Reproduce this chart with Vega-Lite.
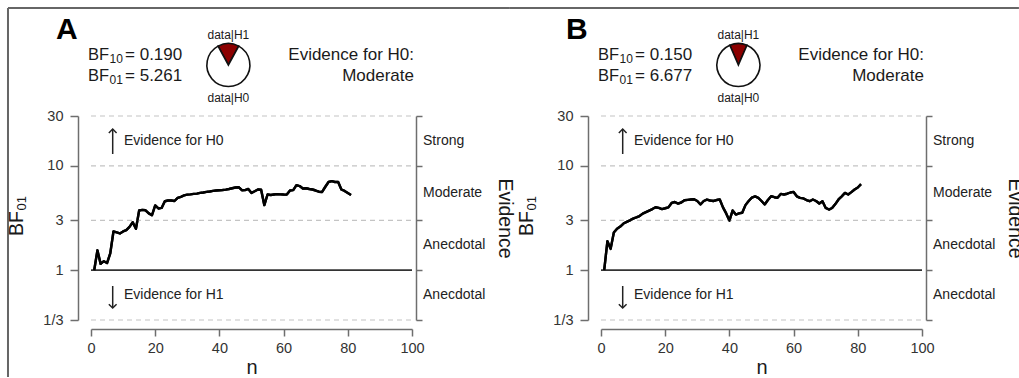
{
  "$schema": "https://vega.github.io/schema/vega-lite/v6.json",
  "background": "white",
  "padding": {"left": 6, "top": 6, "right": 0, "bottom": 0},
  "bounds": "flush",
  "spacing": 189,
  "config": {
    "view": {"stroke": null},
    "font": "Liberation Sans",
    "text": {"font": "Liberation Sans", "color": "#1a1a1a"},
    "axis": {"grid": false, "domainColor": "#6e6e6e", "tickColor": "#6e6e6e", "domainWidth": 1.5, "tickWidth": 1.5, "labelFont": "Liberation Sans", "labelFontSize": 14.5, "labelColor": "#333333", "titleFont": "Liberation Sans", "titleFontWeight": "normal", "titleColor": "#1a1a1a"}
  },
  "datasets": {
    "bfA": [
      {"n":1,"bf":1.0},{"n":2,"bf":1.55},{"n":3,"bf":1.15},{"n":4,"bf":1.22},{"n":5,"bf":1.17},{"n":6,"bf":1.45},{"n":7,"bf":2.35},{"n":8,"bf":2.3},{"n":9,"bf":2.25},{"n":10,"bf":2.35},
      {"n":11,"bf":2.42},{"n":12,"bf":2.6},{"n":13,"bf":2.88},{"n":14,"bf":2.49},{"n":15,"bf":3.73},{"n":16,"bf":3.78},{"n":17,"bf":3.75},{"n":18,"bf":3.5},{"n":19,"bf":3.36},{"n":20,"bf":4.17},
      {"n":21,"bf":3.9},{"n":22,"bf":3.95},{"n":23,"bf":4.58},{"n":24,"bf":4.65},{"n":25,"bf":4.65},{"n":26,"bf":4.6},{"n":27,"bf":4.93},{"n":28,"bf":5.05},{"n":29,"bf":5.2},{"n":30,"bf":5.3},
      {"n":31,"bf":5.33},{"n":32,"bf":5.38},{"n":33,"bf":5.42},{"n":34,"bf":5.5},{"n":35,"bf":5.55},{"n":36,"bf":5.62},{"n":37,"bf":5.68},{"n":38,"bf":5.75},{"n":39,"bf":5.8},{"n":40,"bf":5.84},
      {"n":41,"bf":5.87},{"n":42,"bf":5.92},{"n":43,"bf":6.0},{"n":44,"bf":6.1},{"n":45,"bf":6.2},{"n":46,"bf":6.24},{"n":47,"bf":5.84},{"n":48,"bf":5.85},{"n":49,"bf":6.0},{"n":50,"bf":5.5},
      {"n":51,"bf":5.7},{"n":52,"bf":5.93},{"n":53,"bf":5.9},{"n":54,"bf":4.2},{"n":55,"bf":5.31},{"n":56,"bf":5.25},{"n":57,"bf":5.31},{"n":58,"bf":5.35},{"n":59,"bf":5.33},{"n":60,"bf":5.31},
      {"n":61,"bf":5.3},{"n":62,"bf":5.8},{"n":63,"bf":5.85},{"n":64,"bf":6.52},{"n":65,"bf":6.4},{"n":66,"bf":6.06},{"n":67,"bf":6.1},{"n":68,"bf":6.0},{"n":69,"bf":5.93},{"n":70,"bf":5.8},
      {"n":71,"bf":5.65},{"n":72,"bf":5.62},{"n":73,"bf":6.3},{"n":74,"bf":7.0},{"n":75,"bf":7.12},{"n":76,"bf":7.0},{"n":77,"bf":7.0},{"n":78,"bf":5.93},{"n":79,"bf":5.75},{"n":80,"bf":5.5},
      {"n":81,"bf":5.261}
    ],
    "bfB": [
      {"n":1,"bf":1.0},{"n":2,"bf":1.9},{"n":3,"bf":1.6},{"n":4,"bf":2.3},{"n":5,"bf":2.5},{"n":6,"bf":2.62},{"n":7,"bf":2.8},{"n":8,"bf":2.9},{"n":9,"bf":3.0},{"n":10,"bf":3.12},
      {"n":11,"bf":3.2},{"n":12,"bf":3.3},{"n":13,"bf":3.48},{"n":14,"bf":3.6},{"n":15,"bf":3.72},{"n":16,"bf":3.85},{"n":17,"bf":4.01},{"n":18,"bf":3.95},{"n":19,"bf":3.85},{"n":20,"bf":3.92},
      {"n":21,"bf":4.0},{"n":22,"bf":4.41},{"n":23,"bf":4.5},{"n":24,"bf":4.35},{"n":25,"bf":4.45},{"n":26,"bf":4.68},{"n":27,"bf":4.72},{"n":28,"bf":4.75},{"n":29,"bf":4.78},{"n":30,"bf":4.6},
      {"n":31,"bf":4.26},{"n":32,"bf":4.6},{"n":33,"bf":4.75},{"n":34,"bf":4.65},{"n":35,"bf":4.6},{"n":36,"bf":4.7},{"n":37,"bf":4.75},{"n":38,"bf":4.0},{"n":39,"bf":3.5},{"n":40,"bf":2.99},
      {"n":41,"bf":3.73},{"n":42,"bf":3.41},{"n":43,"bf":3.5},{"n":44,"bf":3.55},{"n":45,"bf":4.2},{"n":46,"bf":4.6},{"n":47,"bf":4.95},{"n":48,"bf":5.1},{"n":49,"bf":4.93},{"n":50,"bf":4.6},
      {"n":51,"bf":4.26},{"n":52,"bf":4.7},{"n":53,"bf":5.12},{"n":54,"bf":5.0},{"n":55,"bf":4.93},{"n":56,"bf":5.38},{"n":57,"bf":5.31},{"n":58,"bf":5.4},{"n":59,"bf":5.55},{"n":60,"bf":5.62},
      {"n":61,"bf":5.1},{"n":62,"bf":4.93},{"n":63,"bf":4.87},{"n":64,"bf":4.7},{"n":65,"bf":4.58},{"n":66,"bf":4.76},{"n":67,"bf":4.6},{"n":68,"bf":4.35},{"n":69,"bf":4.58},{"n":70,"bf":3.95},
      {"n":71,"bf":3.81},{"n":72,"bf":3.94},{"n":73,"bf":4.3},{"n":74,"bf":4.76},{"n":75,"bf":5.1},{"n":76,"bf":5.5},{"n":77,"bf":5.31},{"n":78,"bf":5.6},{"n":79,"bf":5.93},{"n":80,"bf":6.2},
      {"n":81,"bf":6.677}
    ]
  },
  "hconcat": [
    {
      "width": 321,
      "height": 204,
      "resolve": {"axis": {"y": "independent"}},
      "layer": [
        {"data": {"name": "bfA"}, "mark": {"type": "line", "color": "#000000", "strokeWidth": 2.4, "strokeJoin": "round"},
         "encoding": {
           "x": {"field": "n", "type": "quantitative", "scale": {"domain": [0, 100], "nice": false, "zero": false},
                 "axis": {"orient": "bottom", "offset": 9, "values": [0, 20, 40, 60, 80, 100], "tickSize": 7, "labelPadding": 5, "labelFlush": false, "labelOverlap": false, "title": "n", "titleFontSize": 20, "titlePadding": 3}},
           "y": {"field": "bf", "type": "quantitative", "scale": {"type": "log", "domain": [0.3333333, 30], "nice": false},
                 "axis": {"orient": "left", "offset": 13, "values": [0.3333333, 1, 3, 10, 30], "labelExpr": "datum.value < 0.5 ? '1/3' : format(datum.value, 'd')", "tickSize": 8, "labelPadding": 7, "labelOverlap": false, "labelFlush": false, "title": null}}}},
        {"data": {"values": [{}]}, "mark": {"type": "rule", "color": "#666666", "strokeWidth": 2},
         "encoding": {"x": {"datum": -25.86, "type": "quantitative"}, "x2": {"datum": 130.5}, "y": {"datum": 324.9, "type": "quantitative", "axis": null}}},
        {"data": {"values": [{}]}, "mark": {"type": "rule", "color": "#666666", "strokeWidth": 2},
         "encoding": {"x": {"datum": -25.86, "type": "quantitative"}, "y": {"datum": 324.9, "type": "quantitative", "axis": null}, "y2": {"datum": 0.095}}},
        {"data": {"values": [{"bf": 30}, {"bf": 10}, {"bf": 3}, {"bf": 0.3333333}]},
         "mark": {"type": "rule", "color": "#c4c4c4", "strokeDash": [5, 4], "strokeWidth": 1.2},
         "encoding": {"x": {"datum": 0, "type": "quantitative"}, "x2": {"datum": 100},
                      "y": {"field": "bf", "type": "quantitative", "axis": {"orient": "right", "offset": 4, "values": [0.3333333, 1, 3, 10, 30], "labels": false, "tickSize": 6, "title": "Evidence", "titleFontSize": 19.5, "titleAngle": 90, "titlePadding": 72}}}},
        {"data": {"values": [{}]}, "mark": {"type": "rule", "color": "#333333", "strokeWidth": 1.8},
         "encoding": {"x": {"datum": 0, "type": "quantitative"}, "x2": {"datum": 100}, "y": {"datum": 1, "type": "quantitative", "axis": null}}},
        {"data": {"name": "bfA"}, "mark": {"type": "line", "color": "#000000", "strokeWidth": 2.4, "strokeJoin": "round"},
         "encoding": {"x": {"field": "n", "type": "quantitative"}, "y": {"field": "bf", "type": "quantitative", "axis": null}}},
        {"data": {"values": [{"label": "Strong", "bf": 17.32}, {"label": "Moderate", "bf": 5.477}, {"label": "Anecdotal", "bf": 1.732}, {"label": "Anecdotal", "bf": 0.5774}]},
         "mark": {"type": "text", "align": "left", "baseline": "middle", "fontSize": 14, "color": "#222222"},
         "encoding": {"x": {"datum": 103.43, "type": "quantitative"}, "y": {"field": "bf", "type": "quantitative", "axis": null}, "text": {"field": "label"}}},
        {"data": {"values": [{"label": "Evidence for H0", "bf": 17.32}, {"label": "Evidence for H1", "bf": 0.5774}]},
         "mark": {"type": "text", "align": "left", "baseline": "middle", "fontSize": 14, "color": "#222222"},
         "encoding": {"x": {"datum": 10.28, "type": "quantitative"}, "y": {"field": "bf", "type": "quantitative", "axis": null}, "text": {"field": "label"}}},
        {"data": {"values": [{}]}, "mark": {"type": "rule", "color": "#222222", "strokeWidth": 1.5},
         "encoding": {"x": {"datum": 6.76, "type": "quantitative"}, "y": {"datum": 12.98, "type": "quantitative", "axis": null}, "y2": {"datum": 22.5}}},
        {"data": {"values": [{}]}, "mark": {"type": "point", "shape": "M-1,1L0,0L1,1", "size": 60, "filled": false, "color": "#222222", "strokeWidth": 1.5, "opacity": 1},
         "encoding": {"x": {"datum": 6.76, "type": "quantitative"}, "y": {"datum": 22.5, "type": "quantitative", "axis": null}}},
        {"data": {"values": [{}]}, "mark": {"type": "rule", "color": "#222222", "strokeWidth": 1.5},
         "encoding": {"x": {"datum": 6.76, "type": "quantitative"}, "y": {"datum": 0.706, "type": "quantitative", "axis": null}, "y2": {"datum": 0.434}}},
        {"data": {"values": [{}]}, "mark": {"type": "point", "shape": "M-1,-1L0,0L1,-1", "size": 60, "filled": false, "color": "#222222", "strokeWidth": 1.5, "opacity": 1},
         "encoding": {"x": {"datum": 6.76, "type": "quantitative"}, "y": {"datum": 0.434, "type": "quantitative", "axis": null}}},
        {"data": {"values": [{}]}, "mark": {"type": "text", "align": "left", "baseline": "middle", "angle": 270, "fontSize": 19.5, "text": "BF"},
         "encoding": {"x": {"datum": -23.05, "type": "quantitative"}, "y": {"datum": 2.126, "type": "quantitative", "axis": null}}},
        {"data": {"values": [{}]}, "mark": {"type": "text", "align": "left", "baseline": "middle", "angle": 270, "fontSize": 13, "text": "01"},
         "encoding": {"x": {"datum": -21.5, "type": "quantitative"}, "y": {"datum": 3.73, "type": "quantitative", "axis": null}}},
        {"data": {"values": [{}]}, "mark": {"type": "text", "align": "left", "baseline": "middle", "fontSize": 30, "fontWeight": "bold", "color": "#000000", "text": "A"},
         "encoding": {"x": {"datum": -10.9, "type": "quantitative"}, "y": {"datum": 200, "type": "quantitative", "axis": null}}},
        {"data": {"values": [{}]}, "mark": {"type": "text", "align": "left", "baseline": "middle", "fontSize": 16.5, "text": "BF"},
         "encoding": {"x": {"datum": -0.93, "type": "quantitative"}, "y": {"datum": 115.2, "type": "quantitative", "axis": null}}},
        {"data": {"values": [{}]}, "mark": {"type": "text", "align": "left", "baseline": "middle", "fontSize": 12, "text": "10"},
         "encoding": {"x": {"datum": 5.76, "type": "quantitative"}, "y": {"datum": 105.5, "type": "quantitative", "axis": null}}},
        {"data": {"values": [{}]}, "mark": {"type": "text", "align": "left", "baseline": "middle", "fontSize": 17, "text": "= 0.190"},
         "encoding": {"x": {"datum": 10.6, "type": "quantitative"}, "y": {"datum": 115.2, "type": "quantitative", "axis": null}}},
        {"data": {"values": [{}]}, "mark": {"type": "text", "align": "left", "baseline": "middle", "fontSize": 16.5, "text": "BF"},
         "encoding": {"x": {"datum": -0.93, "type": "quantitative"}, "y": {"datum": 72.5, "type": "quantitative", "axis": null}}},
        {"data": {"values": [{}]}, "mark": {"type": "text", "align": "left", "baseline": "middle", "fontSize": 12, "text": "01"},
         "encoding": {"x": {"datum": 5.76, "type": "quantitative"}, "y": {"datum": 66.4, "type": "quantitative", "axis": null}}},
        {"data": {"values": [{}]}, "mark": {"type": "text", "align": "left", "baseline": "middle", "fontSize": 17, "text": "= 5.261"},
         "encoding": {"x": {"datum": 10.6, "type": "quantitative"}, "y": {"datum": 72.5, "type": "quantitative", "axis": null}}},
        {"data": {"values": [{}]}, "mark": {"type": "text", "align": "center", "baseline": "middle", "fontSize": 12, "text": "data|H1"},
         "encoding": {"x": {"datum": 42.8, "type": "quantitative"}, "y": {"datum": 181, "type": "quantitative", "axis": null}}},
        {"data": {"values": [{}]}, "mark": {"type": "text", "align": "center", "baseline": "middle", "fontSize": 12, "text": "data|H0"},
         "encoding": {"x": {"datum": 42.8, "type": "quantitative"}, "y": {"datum": 44.6, "type": "quantitative", "axis": null}}},
        {"data": {"values": [{"hyp": "H1", "p": 0.159664}, {"hyp": "H0", "p": 0.840336}]},
         "mark": {"type": "arc", "radius": 21.5, "stroke": "#111111", "strokeWidth": 1.6},
         "encoding": {
           "x": {"datum": 42.8, "type": "quantitative"},
           "y": {"datum": 92.4, "type": "quantitative", "axis": null},
           "theta": {"field": "p", "type": "quantitative", "stack": true, "scale": {"range": [-0.5016, 5.7816]}},
           "color": {"field": "hyp", "type": "nominal", "scale": {"domain": ["H1", "H0"], "range": ["#8b0000", "#ffffff"]}, "legend": null},
           "order": {"field": "hyp", "sort": "descending"}}},
        {"data": {"values": [{}]}, "mark": {"type": "text", "align": "right", "baseline": "middle", "fontSize": 17, "text": "Evidence for H0:"},
         "encoding": {"x": {"datum": 100.62, "type": "quantitative"}, "y": {"datum": 115.2, "type": "quantitative", "axis": null}}},
        {"data": {"values": [{}]}, "mark": {"type": "text", "align": "right", "baseline": "middle", "fontSize": 17, "text": "Moderate"},
         "encoding": {"x": {"datum": 100.62, "type": "quantitative"}, "y": {"datum": 72.5, "type": "quantitative", "axis": null}}}
      ]
    },
    {
      "width": 321,
      "height": 204,
      "resolve": {"axis": {"y": "independent"}},
      "layer": [
        {"data": {"name": "bfB"}, "mark": {"type": "line", "color": "#000000", "strokeWidth": 2.4, "strokeJoin": "round"},
         "encoding": {
           "x": {"field": "n", "type": "quantitative", "scale": {"domain": [0, 100], "nice": false, "zero": false},
                 "axis": {"orient": "bottom", "offset": 9, "values": [0, 20, 40, 60, 80, 100], "tickSize": 7, "labelPadding": 5, "labelFlush": false, "labelOverlap": false, "title": "n", "titleFontSize": 20, "titlePadding": 3}},
           "y": {"field": "bf", "type": "quantitative", "scale": {"type": "log", "domain": [0.3333333, 30], "nice": false},
                 "axis": {"orient": "left", "offset": 13, "values": [0.3333333, 1, 3, 10, 30], "labelExpr": "datum.value < 0.5 ? '1/3' : format(datum.value, 'd')", "tickSize": 8, "labelPadding": 7, "labelOverlap": false, "labelFlush": false, "title": null}}}},
        {"data": {"values": [{}]}, "mark": {"type": "rule", "color": "#666666", "strokeWidth": 2},
         "encoding": {"x": {"datum": -28.35, "type": "quantitative"}, "x2": {"datum": 130.2}, "y": {"datum": 324.9, "type": "quantitative", "axis": null}}},
        {"data": {"values": [{"bf": 30}, {"bf": 10}, {"bf": 3}, {"bf": 0.3333333}]},
         "mark": {"type": "rule", "color": "#c4c4c4", "strokeDash": [5, 4], "strokeWidth": 1.2},
         "encoding": {"x": {"datum": 0, "type": "quantitative"}, "x2": {"datum": 100},
                      "y": {"field": "bf", "type": "quantitative", "axis": {"orient": "right", "offset": 4, "values": [0.3333333, 1, 3, 10, 30], "labels": false, "tickSize": 6, "title": "Evidence", "titleFontSize": 19.5, "titleAngle": 90, "titlePadding": 72}}}},
        {"data": {"values": [{}]}, "mark": {"type": "rule", "color": "#333333", "strokeWidth": 1.8},
         "encoding": {"x": {"datum": 0, "type": "quantitative"}, "x2": {"datum": 100}, "y": {"datum": 1, "type": "quantitative", "axis": null}}},
        {"data": {"name": "bfB"}, "mark": {"type": "line", "color": "#000000", "strokeWidth": 2.4, "strokeJoin": "round"},
         "encoding": {"x": {"field": "n", "type": "quantitative"}, "y": {"field": "bf", "type": "quantitative", "axis": null}}},
        {"data": {"values": [{"label": "Strong", "bf": 17.32}, {"label": "Moderate", "bf": 5.477}, {"label": "Anecdotal", "bf": 1.732}, {"label": "Anecdotal", "bf": 0.5774}]},
         "mark": {"type": "text", "align": "left", "baseline": "middle", "fontSize": 14, "color": "#222222"},
         "encoding": {"x": {"datum": 103.43, "type": "quantitative"}, "y": {"field": "bf", "type": "quantitative", "axis": null}, "text": {"field": "label"}}},
        {"data": {"values": [{"label": "Evidence for H0", "bf": 17.32}, {"label": "Evidence for H1", "bf": 0.5774}]},
         "mark": {"type": "text", "align": "left", "baseline": "middle", "fontSize": 14, "color": "#222222"},
         "encoding": {"x": {"datum": 10.28, "type": "quantitative"}, "y": {"field": "bf", "type": "quantitative", "axis": null}, "text": {"field": "label"}}},
        {"data": {"values": [{}]}, "mark": {"type": "rule", "color": "#222222", "strokeWidth": 1.5},
         "encoding": {"x": {"datum": 6.76, "type": "quantitative"}, "y": {"datum": 12.98, "type": "quantitative", "axis": null}, "y2": {"datum": 22.5}}},
        {"data": {"values": [{}]}, "mark": {"type": "point", "shape": "M-1,1L0,0L1,1", "size": 60, "filled": false, "color": "#222222", "strokeWidth": 1.5, "opacity": 1},
         "encoding": {"x": {"datum": 6.76, "type": "quantitative"}, "y": {"datum": 22.5, "type": "quantitative", "axis": null}}},
        {"data": {"values": [{}]}, "mark": {"type": "rule", "color": "#222222", "strokeWidth": 1.5},
         "encoding": {"x": {"datum": 6.76, "type": "quantitative"}, "y": {"datum": 0.706, "type": "quantitative", "axis": null}, "y2": {"datum": 0.434}}},
        {"data": {"values": [{}]}, "mark": {"type": "point", "shape": "M-1,-1L0,0L1,-1", "size": 60, "filled": false, "color": "#222222", "strokeWidth": 1.5, "opacity": 1},
         "encoding": {"x": {"datum": 6.76, "type": "quantitative"}, "y": {"datum": 0.434, "type": "quantitative", "axis": null}}},
        {"data": {"values": [{}]}, "mark": {"type": "text", "align": "left", "baseline": "middle", "angle": 270, "fontSize": 19.5, "text": "BF"},
         "encoding": {"x": {"datum": -23.05, "type": "quantitative"}, "y": {"datum": 2.126, "type": "quantitative", "axis": null}}},
        {"data": {"values": [{}]}, "mark": {"type": "text", "align": "left", "baseline": "middle", "angle": 270, "fontSize": 13, "text": "01"},
         "encoding": {"x": {"datum": -21.5, "type": "quantitative"}, "y": {"datum": 3.73, "type": "quantitative", "axis": null}}},
        {"data": {"values": [{}]}, "mark": {"type": "text", "align": "left", "baseline": "middle", "fontSize": 30, "fontWeight": "bold", "color": "#000000", "text": "B"},
         "encoding": {"x": {"datum": -10.9, "type": "quantitative"}, "y": {"datum": 200, "type": "quantitative", "axis": null}}},
        {"data": {"values": [{}]}, "mark": {"type": "text", "align": "left", "baseline": "middle", "fontSize": 16.5, "text": "BF"},
         "encoding": {"x": {"datum": -0.93, "type": "quantitative"}, "y": {"datum": 115.2, "type": "quantitative", "axis": null}}},
        {"data": {"values": [{}]}, "mark": {"type": "text", "align": "left", "baseline": "middle", "fontSize": 12, "text": "10"},
         "encoding": {"x": {"datum": 5.76, "type": "quantitative"}, "y": {"datum": 105.5, "type": "quantitative", "axis": null}}},
        {"data": {"values": [{}]}, "mark": {"type": "text", "align": "left", "baseline": "middle", "fontSize": 17, "text": "= 0.150"},
         "encoding": {"x": {"datum": 10.6, "type": "quantitative"}, "y": {"datum": 115.2, "type": "quantitative", "axis": null}}},
        {"data": {"values": [{}]}, "mark": {"type": "text", "align": "left", "baseline": "middle", "fontSize": 16.5, "text": "BF"},
         "encoding": {"x": {"datum": -0.93, "type": "quantitative"}, "y": {"datum": 72.5, "type": "quantitative", "axis": null}}},
        {"data": {"values": [{}]}, "mark": {"type": "text", "align": "left", "baseline": "middle", "fontSize": 12, "text": "01"},
         "encoding": {"x": {"datum": 5.76, "type": "quantitative"}, "y": {"datum": 66.4, "type": "quantitative", "axis": null}}},
        {"data": {"values": [{}]}, "mark": {"type": "text", "align": "left", "baseline": "middle", "fontSize": 17, "text": "= 6.677"},
         "encoding": {"x": {"datum": 10.6, "type": "quantitative"}, "y": {"datum": 72.5, "type": "quantitative", "axis": null}}},
        {"data": {"values": [{}]}, "mark": {"type": "text", "align": "center", "baseline": "middle", "fontSize": 12, "text": "data|H1"},
         "encoding": {"x": {"datum": 42.8, "type": "quantitative"}, "y": {"datum": 181, "type": "quantitative", "axis": null}}},
        {"data": {"values": [{}]}, "mark": {"type": "text", "align": "center", "baseline": "middle", "fontSize": 12, "text": "data|H0"},
         "encoding": {"x": {"datum": 42.8, "type": "quantitative"}, "y": {"datum": 44.6, "type": "quantitative", "axis": null}}},
        {"data": {"values": [{"hyp": "H1", "p": 0.130435}, {"hyp": "H0", "p": 0.869565}]},
         "mark": {"type": "arc", "radius": 21.5, "stroke": "#111111", "strokeWidth": 1.6},
         "encoding": {
           "x": {"datum": 42.8, "type": "quantitative"},
           "y": {"datum": 92.4, "type": "quantitative", "axis": null},
           "theta": {"field": "p", "type": "quantitative", "stack": true, "scale": {"range": [-0.4098, 5.8734]}},
           "color": {"field": "hyp", "type": "nominal", "scale": {"domain": ["H1", "H0"], "range": ["#8b0000", "#ffffff"]}, "legend": null},
           "order": {"field": "hyp", "sort": "descending"}}},
        {"data": {"values": [{}]}, "mark": {"type": "text", "align": "right", "baseline": "middle", "fontSize": 17, "text": "Evidence for H0:"},
         "encoding": {"x": {"datum": 100.62, "type": "quantitative"}, "y": {"datum": 115.2, "type": "quantitative", "axis": null}}},
        {"data": {"values": [{}]}, "mark": {"type": "text", "align": "right", "baseline": "middle", "fontSize": 17, "text": "Moderate"},
         "encoding": {"x": {"datum": 100.62, "type": "quantitative"}, "y": {"datum": 72.5, "type": "quantitative", "axis": null}}}
      ]
    }
  ]
}
